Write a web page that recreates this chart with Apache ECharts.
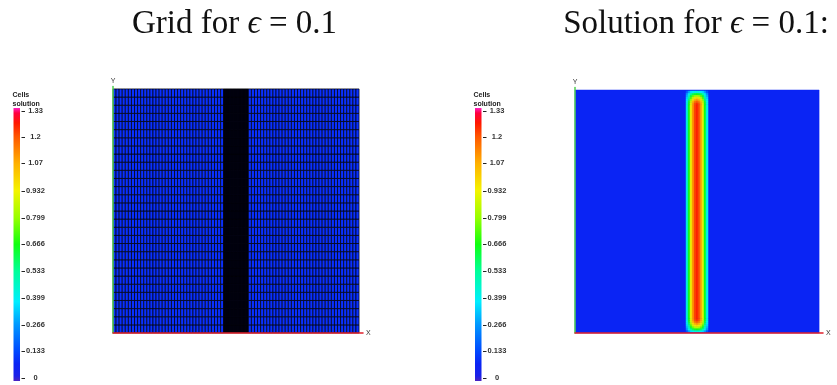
<!DOCTYPE html>
<html>
<head>
<meta charset="utf-8">
<title>Grid and solution</title>
<script src="https://cdn.jsdelivr.net/npm/echarts@6/dist/echarts.min.js"></script>
<style>
html, body { margin: 0; padding: 0; background: #fff; }
#chart { width: 837px; height: 385px; }
</style>
</head>
<body>
<div id="chart"></div>
<script>
// colour bar tick labels (Cells solution)
var colorbarTicks = [0, 0.133, 0.266, 0.399, 0.533, 0.666, 0.799, 0.932, 1.07, 1.2, 1.33];
var colorbarMin = -0.015;
var colorbarMax = 1.345;

// mesh: [from, to, number of cells] along x, and row count along y
var meshXSpans = [[0, 0.45, 36], [0.45, 0.55, 80], [0.55, 1, 36]];
var meshRowCount = 30;

// solution: background level + the layer around x = 0.5
var solBackground = 0.07;
var bandXEdges = [0.455, 0.4632, 0.4714, 0.4795, 0.4877, 0.4959, 0.5041, 0.5123, 0.5205, 0.5286, 0.5368, 0.545];
var bandYEdges = [0.004, 0.012, 0.02, 0.028, 0.036, 0.044, 0.052, 0.06, 0.94, 0.948, 0.956, 0.964, 0.972, 0.98, 0.988, 0.996];
var bandValues = [
  [0.16, 0.28, 0.36, 0.40, 0.42, 0.43, 0.42, 0.40, 0.36, 0.28, 0.16],
  [0.26, 0.40, 0.52, 0.60, 0.64, 0.66, 0.64, 0.60, 0.52, 0.40, 0.26],
  [0.30, 0.46, 0.63, 0.75, 0.83, 0.85, 0.83, 0.75, 0.63, 0.46, 0.30],
  [0.34, 0.52, 0.73, 0.87, 0.96, 0.99, 0.96, 0.87, 0.73, 0.52, 0.34],
  [0.37, 0.58, 0.81, 0.97, 1.07, 1.11, 1.07, 0.97, 0.81, 0.58, 0.37],
  [0.40, 0.63, 0.87, 1.05, 1.16, 1.20, 1.16, 1.05, 0.87, 0.63, 0.40],
  [0.42, 0.65, 0.91, 1.09, 1.21, 1.25, 1.21, 1.09, 0.91, 0.65, 0.42],
  [0.42, 0.66, 0.92, 1.10, 1.22, 1.26, 1.22, 1.10, 0.92, 0.66, 0.42],
  [0.42, 0.65, 0.91, 1.09, 1.21, 1.25, 1.21, 1.09, 0.91, 0.65, 0.42],
  [0.40, 0.63, 0.87, 1.05, 1.16, 1.20, 1.16, 1.05, 0.87, 0.63, 0.40],
  [0.37, 0.58, 0.81, 0.97, 1.07, 1.11, 1.07, 0.97, 0.81, 0.58, 0.37],
  [0.34, 0.52, 0.73, 0.87, 0.96, 0.99, 0.96, 0.87, 0.73, 0.52, 0.34],
  [0.30, 0.46, 0.63, 0.75, 0.83, 0.85, 0.83, 0.75, 0.63, 0.46, 0.30],
  [0.26, 0.40, 0.52, 0.60, 0.64, 0.66, 0.64, 0.60, 0.52, 0.40, 0.26],
  [0.16, 0.28, 0.36, 0.40, 0.42, 0.43, 0.42, 0.40, 0.36, 0.28, 0.16]
];

// colour table (value -> colour)
var colorTable = [
  [-0.015, '#4a22c0'], [0.01, '#1a20e8'], [0.07, '#0a24f4'], [0.133, '#0048ff'],
  [0.266, '#0098ff'], [0.38, '#00eeff'], [0.533, '#00ff98'], [0.666, '#10ff10'],
  [0.799, '#98ff00'], [0.932, '#f4f400'], [1.07, '#ffb000'], [1.2, '#ff5800'],
  [1.27, '#ff1800'], [1.32, '#ff0040'], [1.345, '#ff20c0']
];

function colorAt(v) {
  if (v <= colorTable[0][0]) return colorTable[0][1];
  for (var i = 1; i < colorTable.length; i++) {
    if (v <= colorTable[i][0]) {
      var a = colorTable[i - 1], b = colorTable[i];
      return echarts.color.lerp((v - a[0]) / (b[0] - a[0]), [a[1], b[1]]);
    }
  }
  return colorTable[colorTable.length - 1][1];
}

var meshXEdges = [0];
meshXSpans.forEach(function (s) {
  for (var k = 1; k <= s[2]; k++) meshXEdges.push(s[0] + (s[1] - s[0]) * k / s[2]);
});
var meshCells = [];
for (var i = 0; i < meshXEdges.length - 1; i++) {
  for (var j = 0; j < meshRowCount; j++) {
    meshCells.push([meshXEdges[i], meshXEdges[i + 1], j / meshRowCount, (j + 1) / meshRowCount]);
  }
}

var solCells = [[0, 1, 0, 1, solBackground]];
for (var r = 0; r < bandValues.length; r++) {
  for (var c = 0; c < bandValues[r].length; c++) {
    solCells.push([bandXEdges[c], bandXEdges[c + 1], bandYEdges[r], bandYEdges[r + 1], bandValues[r][c]]);
  }
}

function cellShape(api) {
  var a = api.coord([api.value(0), api.value(2)]);
  var b = api.coord([api.value(1), api.value(3)]);
  return { x: a[0], y: b[1], width: b[0] - a[0], height: a[1] - b[1] };
}

var gradientStops = colorTable.map(function (t) {
  return { offset: (t[0] - colorbarMin) / (colorbarMax - colorbarMin), color: t[1] };
});

function colorbarItem(params) {
  var cs = params.coordSys;
  return {
    type: 'rect',
    shape: { x: cs.x, y: cs.y, width: 6.5, height: cs.height },
    style: { fill: new echarts.graphic.LinearGradient(0, 1, 0, 0, gradientStops) }
  };
}

function tickItem(params, api) {
  var p = api.coord([1, api.value(1)]);
  return {
    type: 'line',
    shape: { x1: p[0], y1: Math.round(p[1]) + 0.5, x2: p[0] + 3.5, y2: Math.round(p[1]) + 0.5 },
    style: { stroke: '#222', lineWidth: 1 }
  };
}
var tickData = colorbarTicks.map(function (v) { return [1, v]; });

var smallFont = 'Liberation Sans, Arial, sans-serif';

function colorbarX(idx) {
  return { gridIndex: idx, type: 'value', min: 0, max: 1, show: false };
}
function colorbarY(idx) {
  return {
    gridIndex: idx, type: 'value', position: 'right',
    min: colorbarMin, max: colorbarMax,
    axisLine: { show: false },
    splitLine: { show: false },
    axisTick: { show: false },
    axisLabel: {
      customValues: colorbarTicks, margin: 14, align: 'center',
      fontSize: 7.5, fontWeight: 'bold', color: '#333', fontFamily: smallFont,
      formatter: function (v) { return String(v); }
    }
  };
}
function plotX(idx) {
  return {
    gridIndex: idx, type: 'value', min: 0, max: 1.016, z: 5,
    axisLine: { show: true, onZero: false, lineStyle: { color: '#e0202c', width: 1.5 } },
    axisTick: { show: false }, axisLabel: { show: false }, splitLine: { show: false },
    name: 'X', nameLocation: 'end', nameGap: 3,
    nameTextStyle: { fontSize: 7, color: '#333', fontFamily: smallFont }
  };
}
function plotY(idx) {
  return {
    gridIndex: idx, type: 'value', min: 0, max: 1.01, z: 5,
    axisLine: { show: true, onZero: false, lineStyle: { color: '#50d050', width: 1.5 } },
    axisTick: { show: false }, axisLabel: { show: false }, splitLine: { show: false },
    name: 'Y', nameLocation: 'end', nameGap: 2,
    nameTextStyle: { fontSize: 7, color: '#333', fontFamily: smallFont }
  };
}

function titleText(x, text) {
  return {
    type: 'text', x: x, y: 24,
    style: {
      text: text, fill: '#111', align: 'center', verticalAlign: 'middle',
      font: '33px "Liberation Serif", serif',
      rich: { e: { fontStyle: 'italic', fontSize: 33, fontFamily: 'Liberation Serif, DejaVu Serif, serif', fill: '#111' } }
    }
  };
}
function legendTitle(x) {
  return {
    type: 'text', x: x, y: 91,
    style: { text: 'Cells\nsolution', fill: '#222', font: 'bold 7px ' + smallFont, lineHeight: 9 }
  };
}

var chart = echarts.init(document.getElementById('chart'), null, { renderer: 'canvas' });
chart.setOption({
  animation: false,
  backgroundColor: '#fff',
  grid: [
    { left: 13.5, top: 108, width: 8, height: 273, outerBoundsMode: 'none' },
    { left: 113, top: 86.5, width: 250, height: 246.5, outerBoundsMode: 'none' },
    { left: 475, top: 108, width: 8, height: 273, outerBoundsMode: 'none' },
    { left: 575, top: 87.6, width: 248, height: 245.4, outerBoundsMode: 'none' }
  ],
  xAxis: [colorbarX(0), plotX(1), colorbarX(2), plotX(3)],
  yAxis: [colorbarY(0), plotY(1), colorbarY(2), plotY(3)],
  graphic: [
    titleText(234.5, 'Grid for {e|ϵ} = 0.1'),
    titleText(696, 'Solution for {e|ϵ} = 0.1:'),
    legendTitle(12.5),
    legendTitle(473.5)
  ],
  series: [
    { type: 'custom', xAxisIndex: 0, yAxisIndex: 0, data: [[0]], renderItem: colorbarItem, silent: true },
    { type: 'custom', xAxisIndex: 0, yAxisIndex: 0, data: tickData, encode: { x: 0, y: 1 }, renderItem: tickItem, silent: true, clip: false },
    {
      type: 'custom', xAxisIndex: 1, yAxisIndex: 1, data: meshCells, silent: true,
      encode: { x: [0, 1], y: [2, 3] },
      renderItem: function (params, api) {
        return { type: 'rect', shape: cellShape(api), style: { fill: '#0a30ff', stroke: '#000000', lineWidth: 0.7 } };
      }
    },
    { type: 'custom', xAxisIndex: 2, yAxisIndex: 2, data: [[0]], renderItem: colorbarItem, silent: true },
    { type: 'custom', xAxisIndex: 2, yAxisIndex: 2, data: tickData, encode: { x: 0, y: 1 }, renderItem: tickItem, silent: true, clip: false },
    {
      type: 'custom', xAxisIndex: 3, yAxisIndex: 3, data: solCells, silent: true,
      encode: { x: [0, 1], y: [2, 3] },
      renderItem: function (params, api) {
        var col = colorAt(api.value(4));
        return { type: 'rect', shape: cellShape(api), style: { fill: col, stroke: col, lineWidth: 0.5 } };
      }
    }
  ]
});
</script>
</body>
</html>
